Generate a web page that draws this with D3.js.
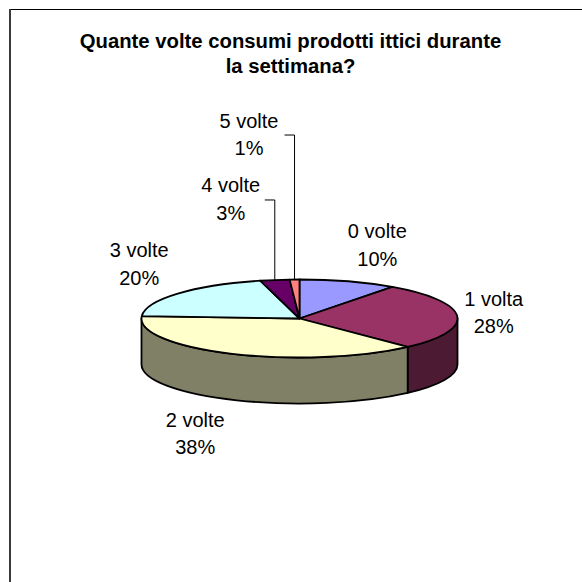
<!DOCTYPE html>
<html>
<head>
<meta charset="utf-8">
<script src="https://cdn.jsdelivr.net/npm/d3@7"></script>
<style>
  html, body { margin: 0; padding: 0; background: #fff; }
  svg { display: block; }
</style>
</head>
<body>
<svg id="chart" width="582" height="582"></svg>
<script>
// ---- data ----
const titleLines = ["Quante volte consumi prodotti ittici durante", "la settimana?"];
const categories = ["0 volte", "1 volta", "2 volte", "3 volte", "4 volte", "5 volte"];
const values = [10, 28, 38, 20, 3, 1];
const percentLabels = ["10%", "28%", "38%", "20%", "3%", "1%"];

// ---- styles / layout ----
const topColors  = ["#9999FF", "#993366", "#FFFFCC", "#CCFFFF", "#660066", "#FF8080"];
const sideColors = ["#4D4D80", "#4D1A33", "#808066", "#668080", "#330033", "#804040"];
// label offsets (dx, dy) relative to the outer edge point of each slice (layout only)
const labelOffsets = [[29, -43], [36.5, -10.5], [-37, 73], [-38.5, -36.5], [-44, -87.5], [-45.5, -152]];
const hasLeader = [false, false, false, false, true, true];

const W = 582, H = 582;
const cx = 299.5, cy = 318.5, rx = 158, ry = 39, depth = 46;
const fontFamily = "'Liberation Sans', Arial, Helvetica, sans-serif";

const svg = d3.select("#chart");

// frame (cut off at right/bottom like the reference)
svg.append("line").attr("x1", 9).attr("y1", 9.5).attr("x2", W).attr("y2", 9.5)
  .attr("stroke", "#000").attr("stroke-width", 1);
svg.append("line").attr("x1", 10).attr("y1", 9).attr("x2", 10).attr("y2", H)
  .attr("stroke", "#3a3a3a").attr("stroke-width", 2);

// title
const title = svg.append("text")
  .attr("text-anchor", "middle")
  .attr("font-family", fontFamily)
  .attr("font-weight", "bold")
  .attr("font-size", 20.3)
  .attr("fill", "#000");
titleLines.forEach((t, i) => {
  title.append("tspan").attr("x", 290.5).attr("y", 47.5 + i * 25).text(t);
});

// pie angles via d3.pie (clockwise from 12 o'clock)
const pie = d3.pie().sort(null).value(d => d.value).startAngle(0).endAngle(2 * Math.PI);
const data = categories.map((c, i) => ({ cat: c, value: values[i], pct: percentLabels[i], i }));
const arcs = pie(data);

// elliptical projection
const px = a => cx + rx * Math.sin(a);
const py = (a, dz = 0) => cy - ry * Math.cos(a) + dz;
const pt = (a, dz = 0) => `${px(a)},${py(a, dz)}`;

const g = svg.append("g");

// outer side walls (front half only: angles between PI/2 and 3PI/2)
arcs.forEach(d => {
  const s0 = Math.max(d.startAngle, Math.PI / 2);
  const s1 = Math.min(d.endAngle, 3 * Math.PI / 2);
  if (s1 <= s0) return;
  const large = (s1 - s0) > Math.PI ? 1 : 0;
  const path = `M${pt(s0)} A${rx},${ry} 0 ${large} 1 ${pt(s1)} L${pt(s1, depth)} A${rx},${ry} 0 ${large} 0 ${pt(s0, depth)} Z`;
  g.append("path").attr("d", path)
    .attr("fill", sideColors[d.data.i])
    .attr("stroke", "#000").attr("stroke-width", 1.8).attr("stroke-linejoin", "round");
});

// top faces
arcs.forEach(d => {
  const large = (d.endAngle - d.startAngle) > Math.PI ? 1 : 0;
  const path = `M${cx},${cy} L${pt(d.startAngle)} A${rx},${ry} 0 ${large} 1 ${pt(d.endAngle)} Z`;
  g.append("path").attr("d", path)
    .attr("fill", topColors[d.data.i])
    .attr("stroke", "#000").attr("stroke-width", 1.8).attr("stroke-linejoin", "round");
});

// labels
const lineGap = 27.5;
arcs.forEach(d => {
  const i = d.data.i;
  const mid = (d.startAngle + d.endAngle) / 2;
  const ax = px(mid), ay = py(mid);
  const lx = ax + labelOffsets[i][0], ly = ay + labelOffsets[i][1];
  const t = svg.append("text")
    .attr("text-anchor", "middle")
    .attr("font-family", fontFamily)
    .attr("font-size", 20)
    .attr("fill", "#000");
  t.append("tspan").attr("x", lx).attr("y", ly).text(d.data.cat);
  t.append("tspan").attr("x", lx).attr("y", ly + lineGap).text(d.data.pct);

  if (hasLeader[i]) {
    const yH = ly + 7.5;
    svg.append("polyline")
      .attr("points", `${ax - 10},${yH} ${ax},${yH} ${ax},${ay}`)
      .attr("fill", "none").attr("stroke", "#000").attr("stroke-width", 1);
  }
});
</script>
</body>
</html>
